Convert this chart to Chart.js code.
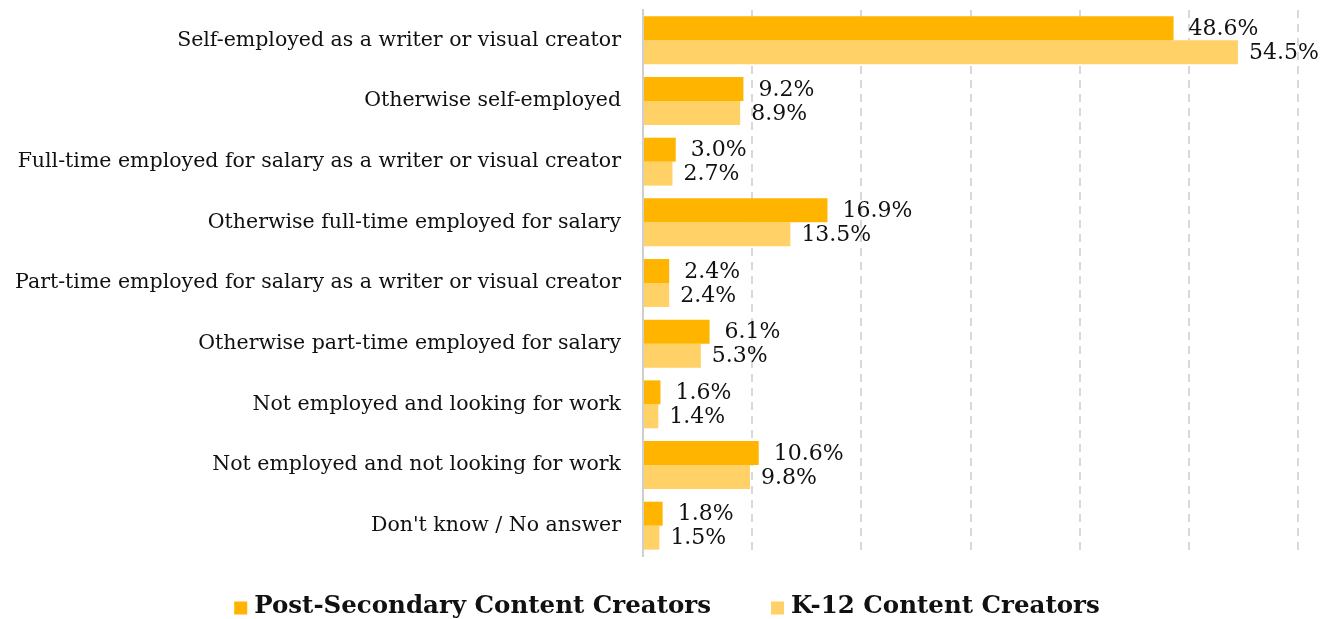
<!DOCTYPE html>
<html>
<head>
<meta charset="utf-8">
<script src="https://cdn.jsdelivr.net/npm/chart.js@4/dist/chart.umd.min.js"></script>
<style>
  html, body { margin: 0; padding: 0; background: #fff; }
  #wrap { width: 1322px; height: 619px; }
</style>
</head>
<body>
<div id="wrap"><canvas id="chart"></canvas></div>
<script>
// categories and values (percent)
const categories = [
    'Self-employed as a writer or visual creator',
    'Otherwise self-employed',
    'Full-time employed for salary as a writer or visual creator',
    'Otherwise full-time employed for salary',
    'Part-time employed for salary as a writer or visual creator',
    'Otherwise part-time employed for salary',
    'Not employed and looking for work',
    'Not employed and not looking for work',
    "Don't know / No answer"
];
const postSecondary = [48.6, 9.2, 3.0, 16.9, 2.4, 6.1, 1.6, 10.6, 1.8];
const k12 = [54.5, 8.9, 2.7, 13.5, 2.4, 5.3, 1.4, 9.8, 1.5];
const seriesNames = ['Post-Secondary Content Creators', 'K-12 Content Creators'];
const xTicks = [0, 10, 20, 30, 40, 50, 60];

const serif = "'DejaVu Serif', 'Liberation Serif', serif";
const colors = ['#FFB400', '#FFD166'];

// value labels at the end of each bar
const valueLabels = {
    id: 'valueLabels',
    afterDatasetsDraw(chart) {
        const ctx = chart.ctx;
        ctx.save();
        ctx.font = '22px ' + serif;
        ctx.fillStyle = '#111';
        ctx.textBaseline = 'middle';
        ctx.textAlign = 'left';
        chart.data.datasets.forEach((ds, i) => {
            const off = i === 0 ? 15 : 11;
            chart.getDatasetMeta(i).data.forEach((bar, j) => {
                ctx.fillText(ds.data[j].toFixed(1) + '%', bar.x + off, bar.y + 1);
            });
        });
        ctx.restore();
    }
};

// legend drawn by hand so it can sit low and tight like the original
const bottomLegend = {
    id: 'bottomLegend',
    afterDraw(chart) {
        const ctx = chart.ctx;
        ctx.save();
        ctx.font = 'bold 24.5px ' + serif;
        ctx.textBaseline = 'middle';
        const gap = 60, box = 13, y = 607;
        const widths = chart.data.datasets.map(ds => box + 7 + ctx.measureText(ds.label).width);
        const total = widths.reduce((a, b) => a + b, 0) + gap;
        let x = (chart.width - total) / 2 + 6;
        chart.data.datasets.forEach((ds, i) => {
            ctx.fillStyle = ds.backgroundColor;
            ctx.fillRect(x, y - box / 2 + 1, box, box);
            ctx.fillStyle = '#111';
            ctx.fillText(ds.label, x + box + 7, y);
            x += widths[i] + gap;
        });
        ctx.restore();
    }
};

const chart = new Chart(document.getElementById('chart'), {
    type: 'bar',
    data: {
        labels: categories,
        datasets: [{
            label: seriesNames[0],
            data: postSecondary,
            backgroundColor: colors[0],
            categoryPercentage: 0.79,
            barPercentage: 1.0
        }, {
            label: seriesNames[1],
            data: k12,
            backgroundColor: colors[1],
            categoryPercentage: 0.79,
            barPercentage: 1.0
        }]
    },
    options: {
        indexAxis: 'y',
        responsive: true,
        maintainAspectRatio: false,
        animation: false,
        layout: { padding: { top: 10, right: 24, left: 0, bottom: 63 } },
        scales: {
            x: {
                min: xTicks[0],
                max: xTicks[xTicks.length - 1],
                afterBuildTicks(scale) { scale.ticks = xTicks.map(v => ({ value: v })); },
                afterFit(scale) { scale.height = 0; },
                ticks: { display: false },
                grid: { color: '#d9d9d9', lineWidth: 2, drawTicks: false },
                border: { display: false, dash: [8, 6] }
            },
            y: {
                afterFit(scale) {
                    scale.width = 643;
                    scale.paddingTop = 0;
                    scale.paddingBottom = 0;
                },
                ticks: {
                    color: '#111',
                    font: { family: serif, size: 20.5 },
                    padding: 22
                },
                grid: { display: false, drawTicks: false },
                border: { display: true, color: '#cfcfcf', width: 2 }
            }
        },
        plugins: {
            legend: { display: false },
            tooltip: { enabled: false }
        }
    },
    plugins: [valueLabels, bottomLegend]
});
</script>
</body>
</html>
